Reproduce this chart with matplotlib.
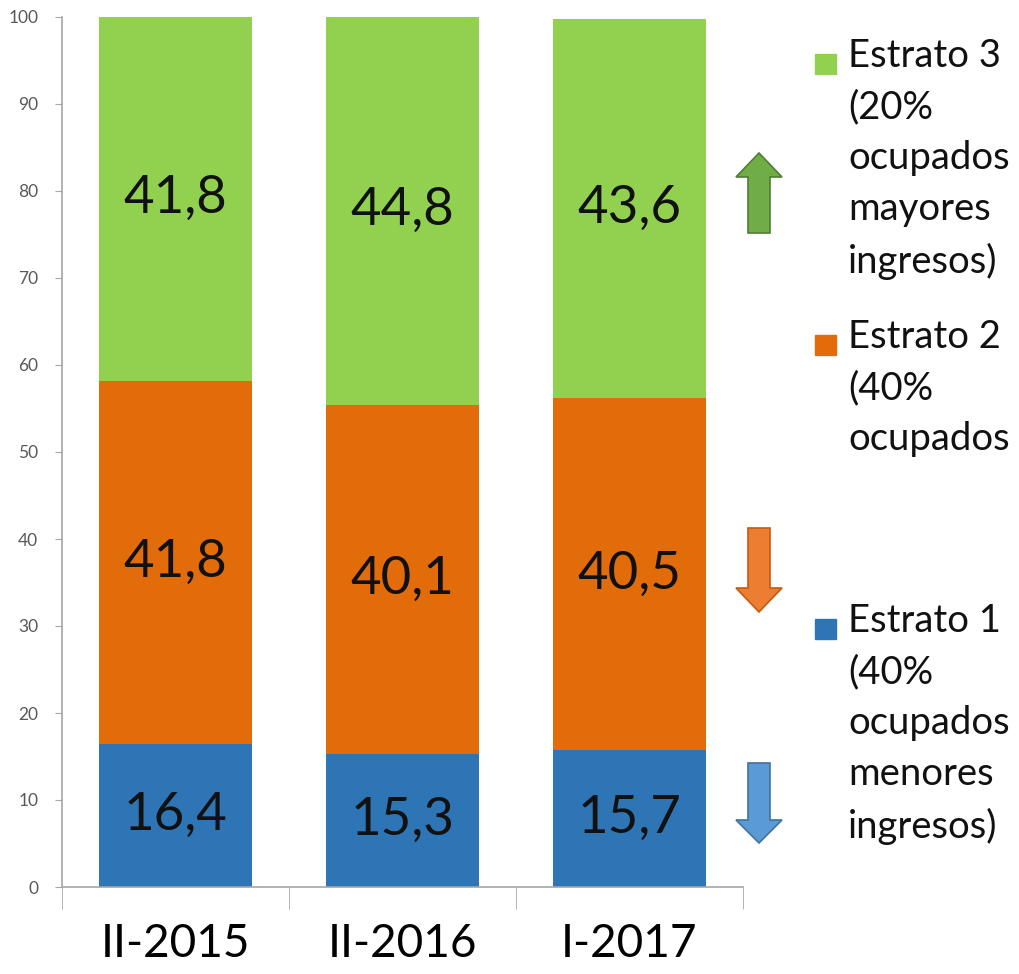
import numpy as np
import matplotlib.pyplot as plt
from matplotlib.patches import Rectangle, Polygon

plt.rcParams['font.family'] = ['Lato', 'DejaVu Sans']

periodos = ['II-2015', 'II-2016', 'I-2017']
estrato1 = [16.4, 15.3, 15.7]
estrato2 = [41.8, 40.1, 40.5]
estrato3 = [41.8, 44.8, 43.6]
etiquetas = ['Estrato 1\n(40%\nocupados\nmenores\ningresos)',
             'Estrato 2\n(40%\nocupados',
             'Estrato 3\n(20%\nocupados\nmayores\ningresos)']
colores = ['#2e75b6', '#e36c0a', '#92d050']
colores_flecha = ['#5b9bd5', '#ed7d31', '#70ad47']
bordes_flecha = ['#41719c', '#c55a11', '#507e32']

W, H = 1019, 974
fig = plt.figure(figsize=(W / 100, H / 100), dpi=100)
ax = fig.add_axes([62 / W, 1 - 887 / H, (743 - 62) / W, (887 - 17) / H])

x = np.arange(len(periodos))
base = np.zeros(len(periodos))
for serie, col in zip([estrato1, estrato2, estrato3], colores):
    serie = np.array(serie)
    ax.bar(x, serie, bottom=base, width=0.67, color=col, zorder=2)
    for xi, b, v in zip(x, base, serie):
        ax.text(xi, b + v / 2, f'{v:.1f}'.replace('.', ','), ha='center', va='center',
                fontsize=38, color='#111111', zorder=3)
    base = base + serie

ax.set_xlim(-0.5, 2.5)
ax.set_ylim(0, 100)
ax.set_yticks(range(0, 101, 10))
ax.set_xticks(x)
ax.set_xticklabels(periodos, fontsize=33)
ax.set_xticks([-0.5, 0.5, 1.5, 2.5], minor=True)
ax.tick_params(axis='x', which='major', length=0, pad=26)
ax.tick_params(axis='x', which='minor', length=16, color='#a6a6a6', direction='out')
ax.tick_params(axis='y', labelsize=12.5, labelcolor='#595959', length=5, color='#a6a6a6', pad=12)
for s in ['top', 'right']:
    ax.spines[s].set_visible(False)
for s in ['left', 'bottom']:
    ax.spines[s].set_color('#a6a6a6')
    ax.spines[s].set_linewidth(1.2)

# capa en pixeles para leyenda y flechas
ov = fig.add_axes([0, 0, 1, 1])
ov.set_xlim(0, W)
ov.set_ylim(H, 0)
ov.axis('off')

leyenda_y = [629, 345, 64]
for lab, col, yc in zip(etiquetas, colores, leyenda_y):
    ov.add_patch(Rectangle((815, yc - 10), 21, 20, color=col))
    ov.text(848, yc - 26, lab, ha='left', va='top', fontsize=27.5, color='#111111',
            linespacing=1.52)

# flechas (arriba para estrato 3, abajo para 1 y 2)
flechas = [(763, 843, 820), (528, 612, 588), (233, 153, 177)]
for (y0, tip, hb), col, ed in zip(flechas, colores_flecha, bordes_flecha):
    xc = 759
    pts = [(xc - 11, y0), (xc + 11, y0), (xc + 11, hb), (xc + 23, hb),
           (xc, tip), (xc - 23, hb), (xc - 11, hb)]
    ov.add_patch(Polygon(pts, closed=True, facecolor=col, edgecolor=ed, lw=1.2))

plt.savefig('out.png', dpi=100)
